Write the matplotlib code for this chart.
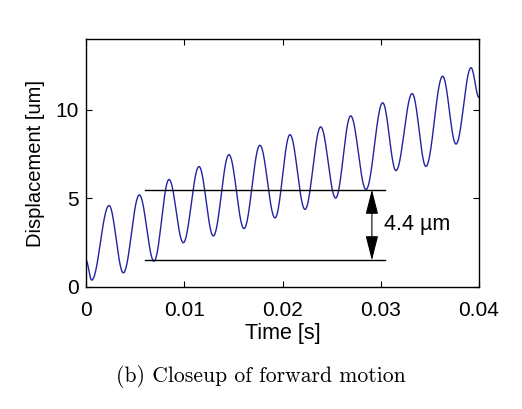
import numpy as np
import matplotlib
matplotlib.use("Agg")
import matplotlib.pyplot as plt

# extrema of the displacement trace (time [s], displacement [um])
ext_t = [0.0, 0.00058, 0.00234, 0.0038, 0.00543, 0.00692, 0.00845, 0.0099, 0.0115,
         0.01296, 0.01455, 0.01608, 0.0177, 0.01924, 0.02076, 0.02229, 0.02389,
         0.02541, 0.02694, 0.0285, 0.0302, 0.03155, 0.0332, 0.0346, 0.0363,
         0.03766, 0.03919, 0.04]
ext_y = [1.5, 0.39, 4.6, 0.8, 5.2, 1.46, 6.07, 2.5, 6.8,
         2.88, 7.47, 3.3, 8.0, 3.9, 8.6, 4.38, 9.04,
         5.02, 9.66, 5.5, 10.4, 6.57, 10.92, 6.81, 11.9,
         8.07, 12.38, 10.7]

# reference lines for the step annotation
ref_hi = 5.5
ref_lo = 1.5
ref_t0 = 0.006
ref_t1 = 0.0304
arrow_t = 0.0291
label = "4.4 µm"

# smooth half-cosine between successive extrema
tt, yy = [], []
for i in range(len(ext_t) - 1):
    s = np.linspace(0, 1, 40, endpoint=False)
    w = (1 - np.cos(np.pi * s)) / 2
    tt.append(ext_t[i] + (ext_t[i + 1] - ext_t[i]) * s)
    yy.append(ext_y[i] + (ext_y[i + 1] - ext_y[i]) * w)
tt.append([ext_t[-1]])
yy.append([ext_y[-1]])
tt = np.concatenate(tt)
yy = np.concatenate(yy)

plt.rcParams['font.family'] = ['Liberation Sans', 'DejaVu Sans']

fig = plt.figure(figsize=(5.22, 4.09), dpi=100)
ax = fig.add_axes([0.1648, 0.2983, 0.7528, 0.6063])

ax.plot(tt, yy, color='#2323a0', lw=1.0)
ax.plot([ref_t0, ref_t1], [ref_hi, ref_hi], color='black', lw=1.0)
ax.plot([ref_t0, ref_t1], [ref_lo, ref_lo], color='black', lw=1.0)
ax.annotate('', xy=(arrow_t, ref_hi), xytext=(arrow_t, ref_lo),
            arrowprops=dict(arrowstyle='<|-|>,head_length=1.1,head_width=0.28',
                            color='black', lw=0.8, mutation_scale=14,
                            shrinkA=0, shrinkB=0))
ax.text(arrow_t + 0.0012, (ref_hi + ref_lo) / 2 + 0.05, label,
        fontsize=15.5, va='center', ha='left')

ax.set_xlim(0, 0.04)
ax.set_ylim(0, 14)
ax.set_xticks([0, 0.01, 0.02, 0.03, 0.04])
ax.set_xticklabels(['0', '0.01', '0.02', '0.03', '0.04'])
ax.set_yticks([0, 5, 10])
ax.tick_params(direction='in', top=True, right=True, labelsize=15, length=4)
ax.tick_params(axis='x', pad=10)
ax.tick_params(axis='y', pad=5)
for sp in ax.spines.values():
    sp.set_linewidth(1.0)

ax.set_xlabel('Time [s]', fontsize=15.5, labelpad=2)
ax.set_ylabel('Displacement [um]', fontsize=14.5, labelpad=8)

fig.text(0.5, 1 - 377 / 409, '(b) Closeup of forward motion', family='cmr10',
         fontsize=15.6, ha='center', va='center')

fig.savefig('out.png', dpi=100)
